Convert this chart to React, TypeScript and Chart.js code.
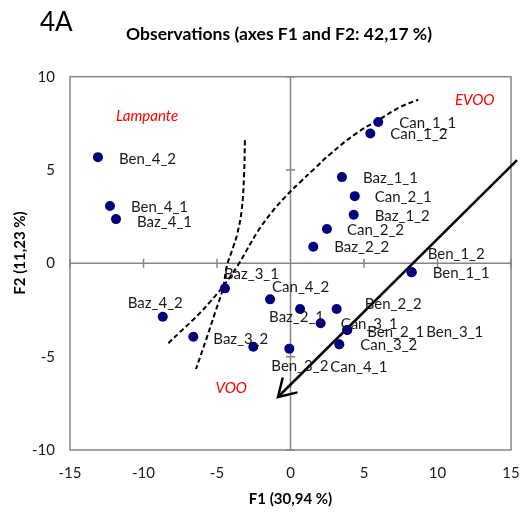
import React, { useEffect, useRef } from "react";
import { Chart, registerables } from "chart.js";

Chart.register(...registerables);

// Observations
const obsNames = [
  "Ben_1_1", "Ben_1_2", "Ben_2_1", "Ben_2_2", "Ben_3_1", "Ben_3_2", "Ben_4_1", "Ben_4_2",
  "Baz_1_1", "Baz_1_2", "Baz_2_1", "Baz_2_2", "Baz_3_1", "Baz_3_2", "Baz_4_1", "Baz_4_2",
  "Can_1_1", "Can_1_2", "Can_2_1", "Can_2_2", "Can_3_1", "Can_3_2", "Can_4_1", "Can_4_2",
];
const f1Values = [
  8.24, 8.24, 3.86, 3.14, 3.86, -2.53, -12.28, -13.1,
  3.5, 4.3, 0.65, 1.55, -4.46, -6.61, -11.87, -8.69,
  5.97, 5.43, 4.37, 2.48, 2.05, 3.32, -0.08, -1.39,
];
const f2Values = [
  -0.48, -0.48, -3.57, -2.45, -3.57, -4.47, 3.07, 5.69,
  4.62, 2.6, -2.45, 0.89, -1.34, -3.93, 2.37, -2.86,
  7.57, 6.96, 3.6, 1.84, -3.21, -4.34, -4.57, -1.93,
];
// label placement relative to the point (pixels)
const labelDx = [
  21, 16, 20, 28, 79, 18, 21, 21,
  21, 21, -31, 21, -1, 20, 21, -35,
  21, 20, 20, 20, 20, 21, 41, 2,
];
const labelDy = [
  1, -18, 2, -5, 2, 19, 1, 2,
  1, 1, 8, 0, -14, 2, 3, -14,
  1, 1, 1, 1, 1, 1, 19, -12,
];

// Boundary curves
const curveAx = [-3.1, -3.16, -3.32, -3.64, -3.89, -4.34, -4.59, -5.14, -5.75, -6.43];
const curveAy = [6.6, 4.73, 2.85, 1.52, 0.89, -0.18, -1.32, -2.66, -4.11, -5.66];
const curveBx = [-8.31, -7.52, -6.5, -5.48, -4.52, -3.64, -2.21, -1.26, -0.31, 0.65, 1.67, 2.69, 4.5, 6.09, 7.45, 8.69];
const curveBy = [-4.28, -3.68, -2.93, -2.07, -1.16, -0.18, 1.73, 2.75, 3.6, 4.35, 5.1, 5.85, 6.98, 7.73, 8.37, 8.77];

// Arrow
const arrowX = [15.41, -0.85];
const arrowY = [5.53, -7.16];

// Region labels
const regionNames = ["Lampante", "EVOO", "VOO"];
const regionX = [-9.76, 12.53, -4.03];
const regionY = [7.88, 8.74, -6.66];

const xTicks = [-15, -10, -5, 0, 5, 10, 15];
const yTicks = [-10, -5, 0, 5, 10];

const FONT = "Lato, 'Open Sans', sans-serif";
const GRAY = "#868686";

const overlay = {
  id: "overlay",
  beforeDatasetsDraw(chart: any) {
    const { ctx, chartArea: a, scales } = chart;
    const xs = scales.x, ys = scales.y;
    ctx.save();
    ctx.strokeStyle = GRAY;
    ctx.lineWidth = 1.5;
    ctx.strokeRect(a.left, a.top, a.right - a.left, a.bottom - a.top);
    const x0 = xs.getPixelForValue(0);
    const y0 = ys.getPixelForValue(0);
    ctx.beginPath();
    ctx.moveTo(a.left, y0);
    ctx.lineTo(a.right, y0);
    ctx.moveTo(x0, a.top);
    ctx.lineTo(x0, a.bottom);
    xTicks.forEach((v) => {
      if (v === 0) return;
      const px = xs.getPixelForValue(v);
      ctx.moveTo(px, y0 - 4.5);
      ctx.lineTo(px, y0 + 4.5);
    });
    yTicks.forEach((v) => {
      if (v === 0) return;
      const py = ys.getPixelForValue(v);
      ctx.moveTo(x0 - 4.5, py);
      ctx.lineTo(x0 + 4.5, py);
    });
    ctx.stroke();
    ctx.restore();
  },
  afterDatasetsDraw(chart: any) {
    const { ctx, scales } = chart;
    const xs = scales.x, ys = scales.y;
    ctx.save();
    // arrowhead
    const tx = xs.getPixelForValue(arrowX[1]);
    const ty = ys.getPixelForValue(arrowY[1]);
    const sx = xs.getPixelForValue(arrowX[0]);
    const sy = ys.getPixelForValue(arrowY[0]);
    const ang = Math.atan2(ty - sy, tx - sx);
    const L = 19, spread = 0.55;
    ctx.strokeStyle = "#000";
    ctx.lineWidth = 2.5;
    ctx.lineCap = "round";
    ctx.beginPath();
    ctx.moveTo(tx - L * Math.cos(ang - spread), ty - L * Math.sin(ang - spread));
    ctx.lineTo(tx, ty);
    ctx.lineTo(tx - L * Math.cos(ang + spread), ty - L * Math.sin(ang + spread));
    ctx.stroke();

    // point labels
    ctx.fillStyle = "#1a1a1a";
    ctx.font = `15px ${FONT}`;
    ctx.textAlign = "left";
    ctx.textBaseline = "middle";
    obsNames.forEach((n, i) => {
      const px = xs.getPixelForValue(f1Values[i]);
      const py = ys.getPixelForValue(f2Values[i]);
      ctx.fillText(n, px + labelDx[i], py + labelDy[i]);
    });

    // region names
    ctx.fillStyle = "#ff0000";
    ctx.font = `italic 15px ${FONT}`;
    ctx.textAlign = "center";
    regionNames.forEach((n, i) => {
      ctx.fillText(n, xs.getPixelForValue(regionX[i]), ys.getPixelForValue(regionY[i]));
    });

    // titles
    ctx.fillStyle = "#000";
    ctx.font = `26px ${FONT}`;
    ctx.textAlign = "left";
    ctx.fillText("4A", 40, 23);
    ctx.font = `bold 17.5px ${FONT}`;
    ctx.textAlign = "center";
    ctx.fillText("Observations (axes F1 and F2: 42,17 %)", 279, 34);
    ctx.font = `bold 15px ${FONT}`;
    ctx.fillText("F1 (30,94 %)", (chart.chartArea.left + chart.chartArea.right) / 2, 499);
    ctx.translate(20, 253);
    ctx.rotate(-Math.PI / 2);
    ctx.fillText("F2 (11,23 %)", 0, 0);
    ctx.restore();
  },
};

export default function App() {
  const ref = useRef<HTMLCanvasElement>(null);
  useEffect(() => {
    if (!ref.current) return;
    const chart = new Chart(ref.current, {
      type: "scatter",
      data: {
        datasets: [
          {
            label: "Observations",
            data: f1Values.map((x, i) => ({ x, y: f2Values[i] })),
            backgroundColor: "#00007f",
            borderWidth: 0,
            pointRadius: 5,
            order: 0,
          },
          {
            label: "curveA",
            data: curveAx.map((x, i) => ({ x, y: curveAy[i] })),
            showLine: true,
            borderColor: "#000",
            borderWidth: 2,
            borderDash: [5, 3],
            pointRadius: 0,
            tension: 0.4,
            order: 1,
          },
          {
            label: "curveB",
            data: curveBx.map((x, i) => ({ x, y: curveBy[i] })),
            showLine: true,
            borderColor: "#000",
            borderWidth: 2,
            borderDash: [5, 3],
            pointRadius: 0,
            tension: 0.4,
            order: 1,
          },
          {
            label: "arrow",
            data: arrowX.map((x, i) => ({ x, y: arrowY[i] })),
            showLine: true,
            borderColor: "#000",
            borderWidth: 2.5,
            pointRadius: 0,
            clip: false as any,
            order: 1,
          },
        ],
      },
      options: {
        animation: false,
        responsive: false,
        devicePixelRatio: 1,
        layout: { padding: { top: 76.7, right: 10, left: 0, bottom: 0 } },
        plugins: { legend: { display: false }, tooltip: { enabled: false }, title: { display: false } },
        scales: {
          x: {
            type: "linear",
            min: -15,
            max: 15,
            afterBuildTicks: (s: any) => { s.ticks = xTicks.map((v) => ({ value: v })); },
            grid: { display: false, drawTicks: false },
            border: { display: false },
            ticks: { padding: 14, color: "#1a1a1a", font: { family: FONT, size: 15 }, maxRotation: 0 },
            afterFit: (s: any) => { s.height = 62; s.paddingLeft = 0; s.paddingRight = 0; },
          },
          y: {
            type: "linear",
            min: -10,
            max: 10,
            afterBuildTicks: (s: any) => { s.ticks = yTicks.map((v) => ({ value: v })); },
            grid: { display: false, drawTicks: false },
            border: { display: false },
            ticks: { padding: 15, color: "#1a1a1a", font: { family: FONT, size: 15 } },
            afterFit: (s: any) => { s.width = 70; s.paddingTop = 0; s.paddingBottom = 0; },
          },
        },
      },
      plugins: [overlay],
    });
    return () => chart.destroy();
  }, []);
  return (
    <canvas
      ref={ref}
      width={521}
      height={512}
      style={{ display: "block", position: "fixed", left: 0, top: 0 }}
    />
  );
}
